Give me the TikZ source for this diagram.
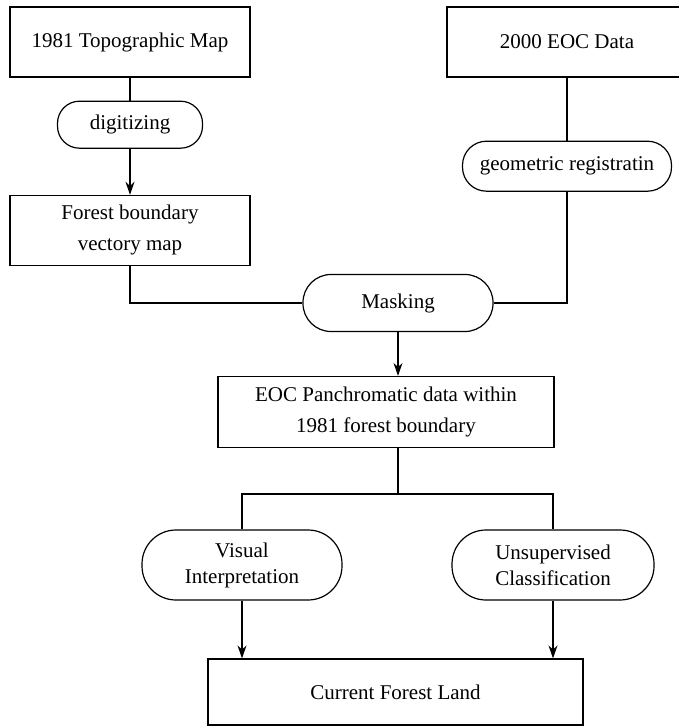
\documentclass[tikz,border=0pt]{standalone}
\usepackage{fontspec}
\setmainfont{Liberation Serif}
\usepackage{tikz}
\usetikzlibrary{arrows.meta, positioning, calc}
\tikzset{
  caja/.style={draw, rectangle, align=center, font=\fontsize{10.5}{13}\selectfont, inner sep=3pt, minimum width=120pt, minimum height=35pt, line width=0.6pt},
  pildora/.style={caja, rounded corners=11pt},
  linea/.style={line width=0.6pt},
  flecha/.style={linea, -{Stealth[length=6.5pt, width=4.5pt]}},
}
\begin{document}
\begin{tikzpicture}[x=0.5pt, y=-0.5pt, node distance=11.5pt]
  \useasboundingbox (0,0) rectangle (678,726);
  % rama izquierda
  \node[caja] (topo) at (130,42) {1981 Topographic Map};
  \node[pildora, below=of topo, minimum width=72.5pt, minimum height=23.5pt] (digit) {digitizing};
  \node[caja, below=23pt of digit] (bosque) {Forest boundary\\[2.5pt]vectory map};
  % rama derecha
  \node[caja] (eoc) at (567,42) {2000 EOC Data};
  \node[pildora, rounded corners=12pt, below=31.5pt of eoc, minimum width=104.5pt, minimum height=25pt] (geo) {geometric registratin};
  % centro
  \node[pildora, rounded corners=14pt, minimum width=95pt, minimum height=28.5pt] (mask) at (398,303) {Masking};
  \node[caja, minimum width=168pt, minimum height=35.5pt] (pan) at (386,412) {EOC Panchromatic data within\\[2.5pt]1981 forest boundary};
  \node[pildora, rounded corners=17pt, minimum width=100pt, minimum height=35pt] (visual) at (242,565) {Visual\\Interpretation};
  \node[pildora, rounded corners=17pt, minimum width=101pt, minimum height=35pt] (unsup) at (553,565) {Unsupervised\\Classification};
  \node[caja, minimum width=187.5pt, minimum height=33pt] (actual) at (395.5,692) {Current Forest Land};
  \coordinate (bif) at (398,494);

  \draw[linea] (topo) -- (digit);
  \draw[flecha] (digit) -- (bosque);
  \draw[linea] (eoc) -- (geo);
  \draw[linea] (bosque) |- (mask);
  \draw[linea] (geo) |- (mask);
  \draw[flecha] (mask) -- (mask |- pan.north);
  \draw[linea] (mask |- pan.south) -- (bif);
  \draw[linea] (visual) |- (bif) -| (unsup);
  \draw[flecha] (visual) -- (visual |- actual.north);
  \draw[flecha] (unsup) -- (unsup |- actual.north);
\end{tikzpicture}
\end{document}
